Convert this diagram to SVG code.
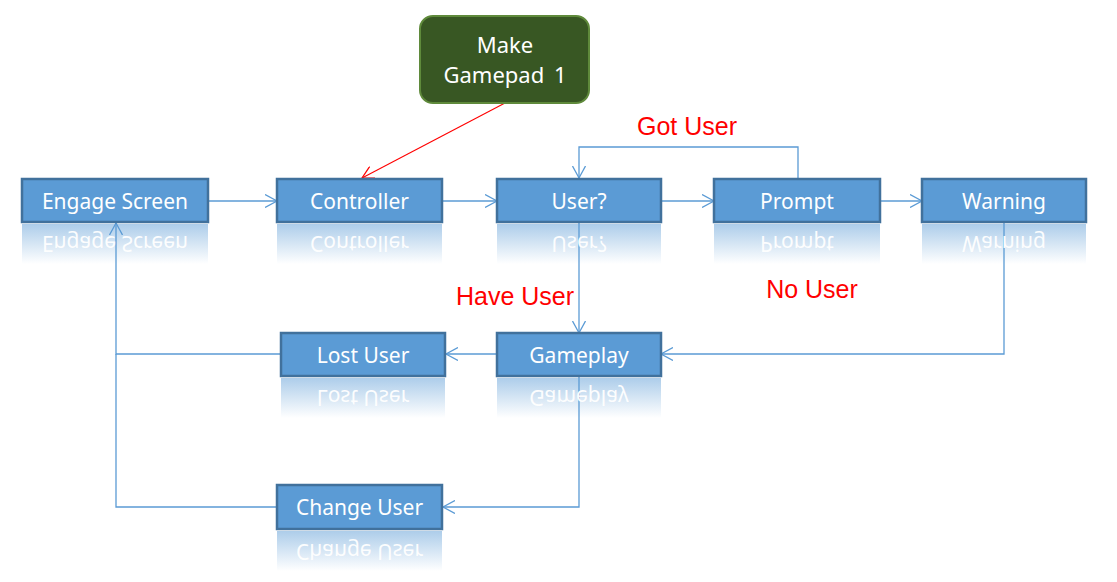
<svg xmlns="http://www.w3.org/2000/svg" width="1117" height="582" viewBox="0 0 1117 582">
<defs>
<style>
.box{fill:#5b9bd5;stroke:#41719c;stroke-width:2.5}
.lbl{font-family:"Noto Sans","Open Sans",sans-serif;font-size:21px;fill:#fff;text-anchor:middle}
.big{font-size:22px}
.rlbl{font-family:"Noto Sans","Open Sans",sans-serif;font-size:21px;fill:#fff;text-anchor:middle;opacity:0.95}
.refl{fill:url(#rg)}
.conn{fill:none;stroke:#5b9bd5;stroke-width:1.3}
.red{fill:none;stroke:#ff0000;stroke-width:1.1}
.note{font-family:"Liberation Sans",Arial,sans-serif;font-size:25px;fill:#ff0000;text-anchor:middle}
</style>
<linearGradient id="rg" x1="0" y1="0" x2="0" y2="1">
<stop offset="0" stop-color="#5b9bd5" stop-opacity="0.5"/>
<stop offset="1" stop-color="#5b9bd5" stop-opacity="0"/>
</linearGradient>
<marker id="ar" viewBox="0 0 14 14" refX="12" refY="7" markerWidth="14" markerHeight="14" markerUnits="userSpaceOnUse" orient="auto">
<path d="M0,0.5 L12,7 L0,13.5" fill="none" stroke="#5b9bd5" stroke-width="1.3"/>
</marker>
<marker id="arr" viewBox="0 0 14 14" refX="12" refY="7" markerWidth="14" markerHeight="14" markerUnits="userSpaceOnUse" orient="auto">
<path d="M0,0.5 L12,7 L0,13.5" fill="none" stroke="#ff0000" stroke-width="1.3"/>
</marker>
</defs>
<rect width="1117" height="582" fill="#ffffff"/>

<g id="connectors">
<line class="conn" x1="208" y1="201" x2="277" y2="201" marker-end="url(#ar)"/>
<line class="conn" x1="442" y1="201" x2="497" y2="201" marker-end="url(#ar)"/>
<line class="conn" x1="661" y1="201" x2="714" y2="201" marker-end="url(#ar)"/>
<line class="conn" x1="880" y1="201" x2="922" y2="201" marker-end="url(#ar)"/>
<polyline class="conn" points="798,178 798,147 579,147 579,178" marker-end="url(#ar)"/>
<line class="conn" x1="579" y1="223" x2="579" y2="333" marker-end="url(#ar)"/>
<polyline class="conn" points="1004,223 1004,354 661,354" marker-end="url(#ar)"/>
<line class="conn" x1="497" y1="354" x2="446" y2="354" marker-end="url(#ar)"/>
<polyline class="conn" points="281,354 116,354 116,223" marker-end="url(#ar)"/>
<polyline class="conn" points="277,507 116,507 116,354"/>
<polyline class="conn" points="579,377 579,507 443,507" marker-end="url(#ar)"/>
<line class="red" x1="505" y1="103" x2="362" y2="178" marker-end="url(#arr)"/>
</g>

<g id="labels">
<text class="note" x="687" y="135">Got User</text>
<text class="note" x="515" y="305">Have User</text>
<text class="note" x="812" y="298">No User</text>
</g>

<g id="node-gamepad">
<rect x="420" y="16" width="169" height="87" rx="13" ry="13" fill="#385723" stroke="#5f8a3b" stroke-width="2"/>
<text class="lbl big" x="505" y="53">Make</text>
<text class="lbl big" x="505" y="83" word-spacing="4">Gamepad 1</text>
</g>

<g id="node-engage">
<rect class="refl" x="22" y="224" width="186" height="40"/>
<text class="rlbl" transform="translate(0,445) scale(1,-1)" x="115" y="209">Engage Screen</text>
<rect class="box" x="22" y="179" width="186" height="43"/>
<text class="lbl" x="115" y="209">Engage Screen</text>
</g>

<g id="node-controller">
<rect class="refl" x="277" y="224" width="165" height="40"/>
<text class="rlbl" transform="translate(0,445) scale(1,-1)" x="359.5" y="209">Controller</text>
<rect class="box" x="277" y="179" width="165" height="43"/>
<text class="lbl" x="359.5" y="209">Controller</text>
</g>

<g id="node-user">
<rect class="refl" x="497" y="224" width="164" height="40"/>
<text class="rlbl" transform="translate(0,445) scale(1,-1)" x="579" y="209">User?</text>
<rect class="box" x="497" y="179" width="164" height="43"/>
<text class="lbl" x="579" y="209">User?</text>
</g>

<g id="node-prompt">
<rect class="refl" x="714" y="224" width="166" height="40"/>
<text class="rlbl" transform="translate(0,445) scale(1,-1)" x="797" y="209">Prompt</text>
<rect class="box" x="714" y="179" width="166" height="43"/>
<text class="lbl" x="797" y="209">Prompt</text>
</g>

<g id="node-warning">
<rect class="refl" x="922" y="224" width="164" height="40"/>
<text class="rlbl" transform="translate(0,445) scale(1,-1)" x="1004" y="209">Warning</text>
<rect class="box" x="922" y="179" width="164" height="43"/>
<text class="lbl" x="1004" y="209">Warning</text>
</g>

<g id="node-lostuser">
<rect class="refl" x="281" y="378" width="164" height="40"/>
<text class="rlbl" transform="translate(0,753) scale(1,-1)" x="363" y="363">Lost User</text>
<rect class="box" x="281" y="333" width="164" height="43"/>
<text class="lbl" x="363" y="363">Lost User</text>
</g>

<g id="node-gameplay">
<rect class="refl" x="497" y="378" width="164" height="40"/>
<text class="rlbl" transform="translate(0,753) scale(1,-1)" x="579" y="363">Gameplay</text>
<rect class="box" x="497" y="333" width="164" height="43"/>
<text class="lbl" x="579" y="363">Gameplay</text>
</g>

<g id="node-changeuser">
<rect class="refl" x="277" y="531" width="165" height="40"/>
<text class="rlbl" transform="translate(0,1059) scale(1,-1)" x="359.5" y="515">Change User</text>
<rect class="box" x="277" y="485" width="165" height="44"/>
<text class="lbl" x="359.5" y="515">Change User</text>
</g>
</svg>
